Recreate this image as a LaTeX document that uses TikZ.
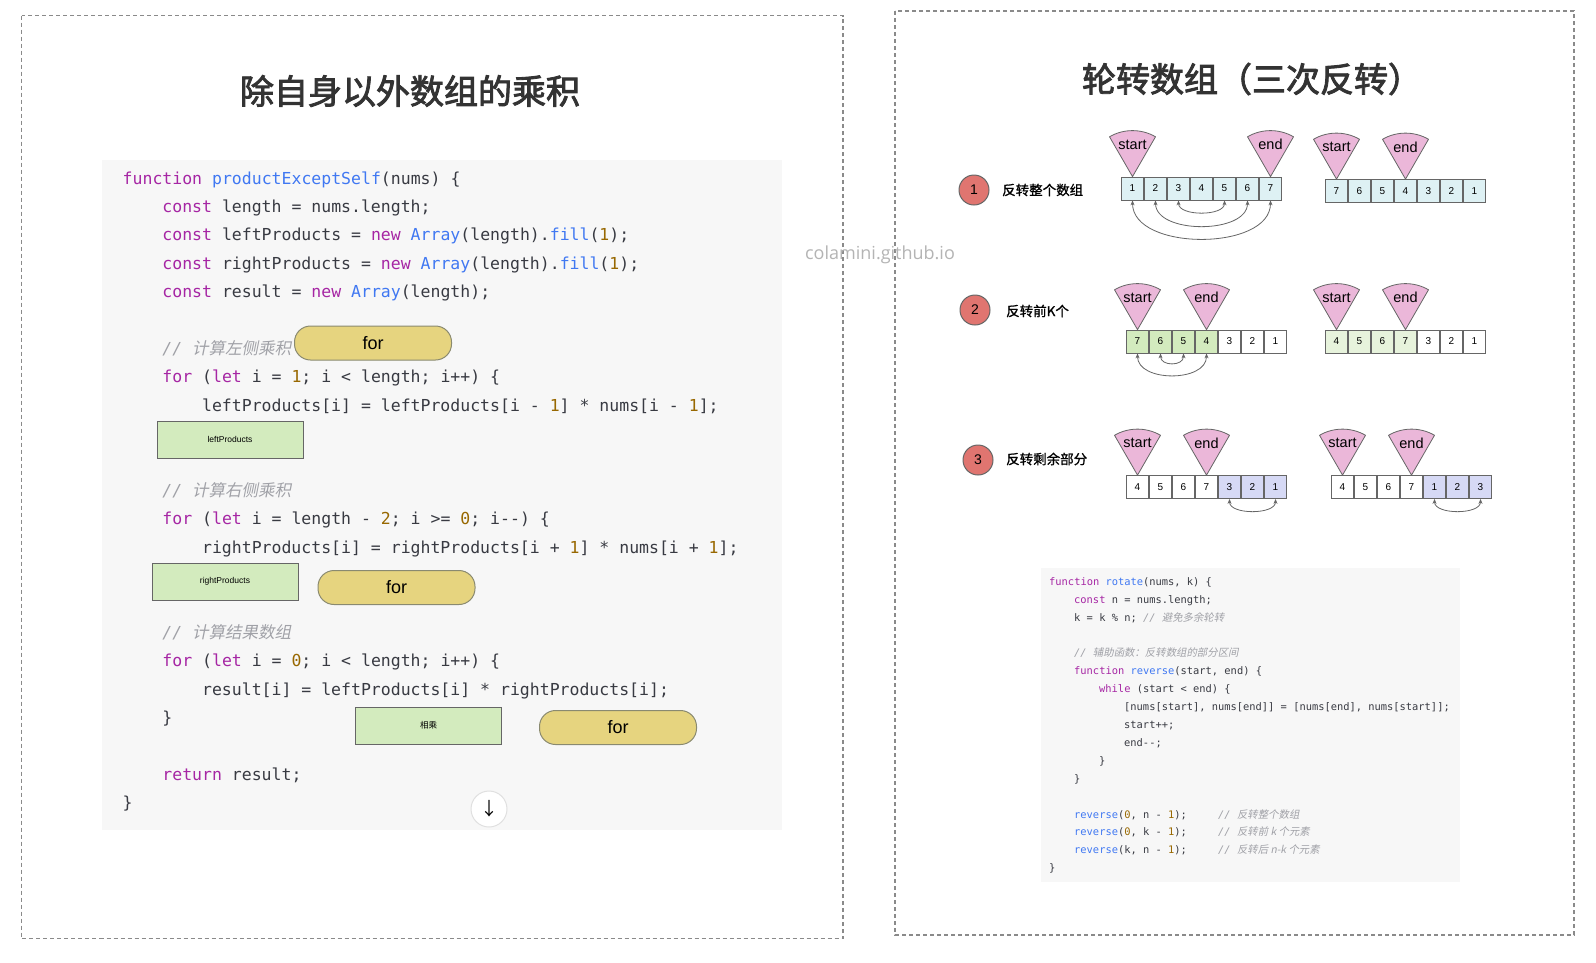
\documentclass[tikz,border=0pt]{standalone}
\usepackage{fontspec}
\usepackage{xcolor}
\usepackage{tikz}
\usetikzlibrary{arrows.meta,calc}
\setmainfont{Liberation Sans}
\newfontfamily\cjk{Noto Sans CJK SC}
\newfontfamily\cjkbf[FakeBold=2.5]{Noto Sans CJK SC}
\newfontfamily\cjkmd[FakeBold=1]{Noto Sans CJK SC}
\newfontfamily\cjkit[FakeSlant=0.2]{Noto Sans CJK SC}
\newfontfamily\codefont{DejaVu Sans Mono}
\newfontfamily\wmfont{Open Sans}
\definecolor{kwcol}{HTML}{A626A4}
\definecolor{fncol}{HTML}{4078F2}
\definecolor{numcol}{HTML}{986801}
\definecolor{cmcol}{HTML}{A0A1A7}
\definecolor{txtcol}{HTML}{383A42}
\definecolor{codebg}{HTML}{F7F7F7}
\definecolor{framegray}{HTML}{8A8A8A}
\definecolor{titlegray}{HTML}{333333}
\definecolor{forfill}{HTML}{E6D47F}
\definecolor{forborder}{HTML}{8A8A70}
\definecolor{greenfill}{HTML}{D3EBBE}
\definecolor{lightgreen}{HTML}{E7F3DC}
\definecolor{cyanfill}{HTML}{DEF1F4}
\definecolor{lavfill}{HTML}{D6D9F5}
\definecolor{pinkfill}{HTML}{EBB7D9}
\definecolor{badgefill}{HTML}{E07570}
\definecolor{edgegray}{HTML}{666666}
\definecolor{wmgray}{HTML}{B4B4B4}

\newcommand{\kw}[1]{\textcolor{kwcol}{#1}}
\newcommand{\fn}[1]{\textcolor{fncol}{#1}}
\newcommand{\nb}[1]{\textcolor{numcol}{#1}}
\newcommand{\cm}[1]{\textcolor{cmcol}{\itshape//\ {\cjkit #1}}}

\begin{document}
\begin{tikzpicture}[
    x=1pt, y=-1pt,
    frame/.style={draw=framegray, line width=1.2pt, dash pattern=on 4pt off 3pt},
    code/.style={anchor=base west, inner sep=0pt, text=txtcol, font=\codefont\fontsize{16.5}{20}\selectfont},
    rcode/.style={code, font=\codefont\fontsize{10.4}{12}\selectfont},
    title/.style={text=titlegray, font=\cjkbf\fontsize{34}{36}\selectfont},
    forbox/.style={draw=forborder, fill=forfill, line width=1pt, rounded corners=16pt, minimum width=157, minimum height=34, font=\fontsize{18}{20}\selectfont},
    varbox/.style={draw=edgegray, fill=greenfill, line width=1pt, minimum width=146, minimum height=37, font=\fontsize{8.5}{10}\selectfont},
    badge/.style={circle, draw=edgegray, fill=badgefill, line width=1pt, minimum size=30, inner sep=0pt, font=\fontsize{14}{16}\selectfont},
    stagelabel/.style={anchor=west, inner sep=0pt, font=\cjkmd\fontsize{13.5}{16}\selectfont},
    cell/.style={draw=edgegray, line width=0.8pt, minimum width=22, minimum height=23, inner sep=0pt, font=\fontsize{10}{12}\selectfont},
    ptr/.style={draw=edgegray, fill=pinkfill, line width=0.8pt, line join=round},
    ptrlabel/.style={inner sep=0pt, font=\fontsize{14.5}{16}\selectfont},
    swap/.style={{Stealth[length=5pt,width=4pt]}-{Stealth[length=5pt,width=4pt]}, draw=edgegray, line width=0.8pt},
  ]
  \useasboundingbox (0,0) rectangle (1596,962);
  \fill[white] (0,0) rectangle (1596,962);

  % Frames
  \draw[frame] (21.5,15.5) rectangle (843,938.5);
  \draw[frame] (895,11) rectangle (1574,935);

  % Titles
  \node[title] (ltitle) at (410,91) {除自身以外数组的乘积};
  \node[title] (rtitle) at (1252,79) {轮转数组（三次反转）};

  % productExceptSelf code
  \fill[codebg] (102,160) rectangle (782,830);
  \node[code] (lc0) at (122.5,184) {\kw{function} \fn{productExceptSelf}(nums) \{};
  \node[code] (lc1) at (162.2,212.4) {\kw{const} length = nums.length;};
  \node[code] (lc2) at (162.2,240.8) {\kw{const} leftProducts = \kw{new} \fn{Array}(length).\fn{fill}(\nb{1});};
  \node[code] (lc3) at (162.2,269.2) {\kw{const} rightProducts = \kw{new} \fn{Array}(length).\fn{fill}(\nb{1});};
  \node[code] (lc4) at (162.2,297.6) {\kw{const} result = \kw{new} \fn{Array}(length);};
  \node[code] (lc6) at (162.2,354.4) {\cm{计算左侧乘积}};
  \node[code] (lc7) at (162.2,382.8) {\kw{for} (\kw{let} i = \nb{1}; i < length; i++) \{};
  \node[code] (lc8) at (201.9,411.2) {leftProducts[i] = leftProducts[i - \nb{1}] * nums[i - \nb{1}];};
  \node[code] (lc11) at (162.2,496.4) {\cm{计算右侧乘积}};
  \node[code] (lc12) at (162.2,524.8) {\kw{for} (\kw{let} i = length - \nb{2}; i >= \nb{0}; i-\kern0pt-) \{};
  \node[code] (lc13) at (201.9,553.2) {rightProducts[i] = rightProducts[i + \nb{1}] * nums[i + \nb{1}];};
  \node[code] (lc16) at (162.2,638.4) {\cm{计算结果数组}};
  \node[code] (lc17) at (162.2,666.8) {\kw{for} (\kw{let} i = \nb{0}; i < length; i++) \{};
  \node[code] (lc18) at (201.9,695.2) {result[i] = leftProducts[i] * rightProducts[i];};
  \node[code] (lc19) at (162.2,723.6) {\}};
  \node[code] (lc21) at (162.2,780.4) {\kw{return} result;};
  \node[code] (lc22) at (122.5,808.8) {\}};

  % Annotation boxes
  \node[forbox] (for1) at (373,343) {for};
  \node[forbox] (for2) at (396.5,587.5) {for};
  \node[forbox] (for3) at (618,727.5) {for};
  \node[varbox] (leftp) at (230,439.5) {leftProducts};
  \node[varbox] (rightp) at (225,581.5) {rightProducts};
  \node[varbox, font=\cjk\fontsize{8.5}{10}\selectfont] (mult) at (428.5,725.5) {相乘};
  \node[circle, draw=black!12, fill=white, line width=1pt, minimum size=36, inner sep=0pt, font=\cjk\fontsize{18}{20}\selectfont] (down) at (489,809) {↓};

  % Steps
  \node[badge] (n1) at (974,190) {1};
  \node[badge] (n2) at (975,310) {2};
  \node[badge] (n3) at (978,460) {3};
  \node[stagelabel] (s1) at (1002,190) {反转整个数组};
  \node[stagelabel] (s2) at (1006,311) {反转前K个};
  \node[stagelabel] (s3) at (1006,459) {反转剩余部分};

  % Arrays
  \foreach \v [count=\i] in {1,2,3,4,5,6,7}
    \node[cell, fill=cyanfill] (a1c\i) at (1109.5+23*\i,188.5) {\v};
  \foreach \v [count=\i] in {7,6,5,4,3,2,1}
    \node[cell, fill=cyanfill] (b1c\i) at (1313.5+23*\i,191) {\v};
  \foreach \v/\c [count=\i] in {7/greenfill,6/greenfill,5/greenfill,4/greenfill,3/white,2/white,1/white}
    \node[cell, fill=\c] (a2c\i) at (1114.5+23*\i,341.5) {\v};
  \foreach \v/\c [count=\i] in {4/lightgreen,5/lightgreen,6/lightgreen,7/lightgreen,3/white,2/white,1/white}
    \node[cell, fill=\c] (b2c\i) at (1313.5+23*\i,341.5) {\v};
  \foreach \v/\c [count=\i] in {4/white,5/white,6/white,7/white,3/lavfill,2/lavfill,1/lavfill}
    \node[cell, fill=\c] (a3c\i) at (1114.5+23*\i,487) {\v};
  \foreach \v/\c [count=\i] in {4/white,5/white,6/white,7/white,1/lavfill,2/lavfill,3/lavfill}
    \node[cell, fill=\c] (b3c\i) at (1319.5+23*\i,487) {\v};

  % start / end pointers
  \foreach \c/\t/\n in {a1c1/start/p1, a1c7/end/p2, b1c1/start/p3, b1c4/end/p4,
                       a2c1/start/p5, a2c4/end/p6, b2c1/start/p7, b2c4/end/p8,
                       a3c1/start/p9, a3c4/end/p10, b3c1/start/p11, b3c4/end/p12} {
    \draw[ptr] (\c.north) -- ++(-60:46) arc[start angle=-60, end angle=-120, radius=46] -- cycle;
    \node[ptrlabel] (\n) at ($(\c.north)+(0,-32)$) {\t};
  }

  % Swaps
  \draw[swap] (a1c1.south) .. controls +(0,51) and +(0,51) .. (a1c7.south);
  \draw[swap] (a1c2.south) .. controls +(0,34) and +(0,34) .. (a1c6.south);
  \draw[swap] (a1c3.south) .. controls +(0,16) and +(0,16) .. (a1c5.south);
  \draw[swap] (a2c1.south) .. controls +(0,29) and +(0,29) .. (a2c4.south);
  \draw[swap] (a2c2.south) .. controls +(0,13) and +(0,13) .. (a2c3.south);
  \draw[swap] (a3c5.south) .. controls +(0,16) and +(0,16) .. (a3c7.south);
  \draw[swap] (b3c5.south) .. controls +(0,16) and +(0,16) .. (b3c7.south);

  % rotate code
  \fill[codebg] (1041,568) rectangle (1460,882);
  \node[rcode] (rc0) at (1049,585.3) {\kw{function} \fn{rotate}(nums, k) \{};
  \node[rcode] (rc1) at (1074,603.2) {\kw{const} n = nums.length;};
  \node[rcode] (rc2) at (1074,621.1) {k = k \% n; \cm{避免多余轮转}};
  \node[rcode] (rc4) at (1074,656.9) {\cm{辅助函数：反转数组的部分区间}};
  \node[rcode] (rc5) at (1074,674.8) {\kw{function} \fn{reverse}(start, end) \{};
  \node[rcode] (rc6) at (1099,692.7) {\kw{while} (start < end) \{};
  \node[rcode] (rc7) at (1124,710.6) {[nums[start], nums[end]] = [nums[end], nums[start]];};
  \node[rcode] (rc8) at (1124,728.5) {start++;};
  \node[rcode] (rc9) at (1124,746.4) {end-\kern0pt-;};
  \node[rcode] (rc10) at (1099,764.3) {\}};
  \node[rcode] (rc11) at (1074,782.2) {\}};
  \node[rcode] (rc13) at (1074,818) {\fn{reverse}(\nb{0}, n - \nb{1});\ \ \ \ \ \cm{反转整个数组}};
  \node[rcode] (rc14) at (1074,835.9) {\fn{reverse}(\nb{0}, k - \nb{1});\ \ \ \ \ \cm{反转前 k 个元素}};
  \node[rcode] (rc15) at (1074,853.8) {\fn{reverse}(k, n - \nb{1});\ \ \ \ \ \cm{反转后 n-k 个元素}};
  \node[rcode] (rc16) at (1049,871.7) {\}};

  % Watermark
  \node[text=wmgray, font=\wmfont\fontsize{18}{20}\selectfont] (wm) at (880,255) {colamini.github.io};
\end{tikzpicture}
\end{document}
